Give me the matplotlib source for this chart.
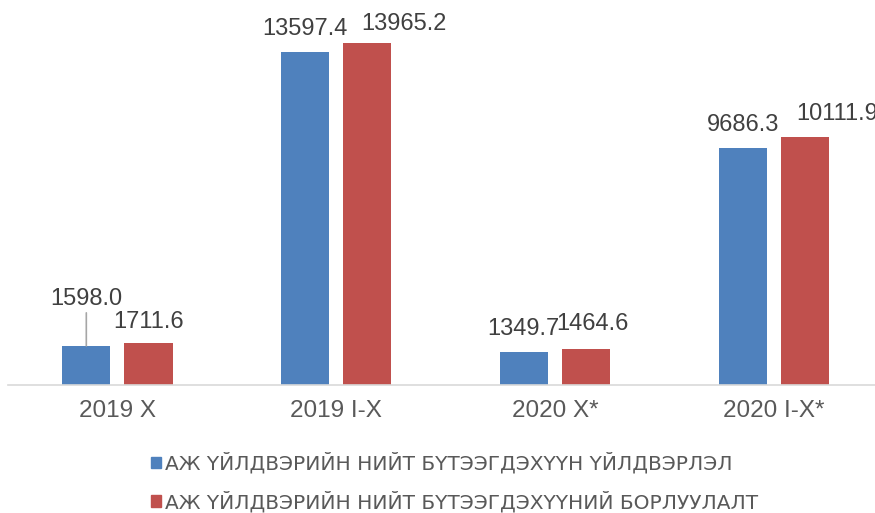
import matplotlib
matplotlib.use("Agg")
import matplotlib.pyplot as plt
import numpy as np
from matplotlib import font_manager
from matplotlib.patches import Patch

categories = ["2019 X", "2019 I-X", "2020 X*", "2020 I-X*"]
production = [1598.0, 13597.4, 1349.7, 9686.3]
sales = [1711.6, 13965.2, 1464.6, 10111.9]
series_names = [
    "АЖ ҮЙЛДВЭРИЙН НИЙТ БҮТЭЭГДЭХҮҮН ҮЙЛДВЭРЛЭЛ",
    "АЖ ҮЙЛДВЭРИЙН НИЙТ БҮТЭЭГДЭХҮҮНИЙ БОРЛУУЛАЛТ",
]

BLUE = "#4F81BD"
RED = "#C0504D"
TEXT = "#404040"

available = {f.name for f in font_manager.fontManager.ttflist}
narrow = "Liberation Sans Narrow" if "Liberation Sans Narrow" in available else "DejaVu Sans Condensed"
plt.rcParams["font.family"] = ["Liberation Sans", "DejaVu Sans"]

fig = plt.figure(figsize=(8.75, 5.13), dpi=100)
ax = fig.add_axes([8 / 875, (513 - 385) / 513, 1.0, 375 / 513])

x = np.arange(len(categories))
w = 0.22
off = 0.142
b1 = ax.bar(x - off, production, w, color=BLUE, zorder=2)
b2 = ax.bar(x + off, sales, w, color=RED, zorder=2)

ax.set_xlim(-0.5, 3.5)
ax.set_ylim(0, 15312)

# label positions as in the source: (dx, dy) in pixels from bar top to text centre
blue_pos = [(0, 49), (0, 25), (0, 25), (0, 25)]
red_pos = [(0, 24), (37, 21), (7, 28), (32, 26)]
CAP = 8.5  # half the digit height, px

for bars, vals, pos in [(b1, production, blue_pos), (b2, sales, red_pos)]:
    for rect, val, (dx, dy) in zip(bars, vals, pos):
        cx = rect.get_x() + rect.get_width() / 2
        ax.annotate(f"{val:.1f}", xy=(cx, val), xytext=(dx, dy - CAP),
                    textcoords="offset pixels", ha="center", va="baseline",
                    fontsize=17, color=TEXT, annotation_clip=False)

# leader line for the first blue label
r0 = b1[0]
ax.annotate("", xy=(r0.get_x() + r0.get_width() / 2, production[0]), xytext=(0, 33),
            textcoords="offset pixels",
            arrowprops=dict(arrowstyle="-", color="#A6A6A6", lw=1.2, shrinkA=0, shrinkB=0))

for s in ["top", "right", "left"]:
    ax.spines[s].set_visible(False)
ax.spines["bottom"].set_color("#D9D9D9")
ax.spines["bottom"].set_linewidth(1.2)
ax.set_yticks([])
ax.set_xticks(x)
ax.set_xticklabels(categories, fontsize=17.5, color="#595959")
ax.tick_params(axis="x", length=0, pad=11)

handles = [Patch(color=BLUE), Patch(color=RED)]
leg = fig.legend(handles, series_names, loc="upper left",
                 bbox_to_anchor=(151 / 875, 1 - 452 / 513),
                 ncol=1, frameon=False, borderpad=0, borderaxespad=0,
                 handlelength=0.5, handleheight=0.5,
                 handletextpad=0.2, labelspacing=0.85,
                 prop={"family": narrow, "size": 14.5})
for t in leg.get_texts():
    t.set_color("#595959")

fig.savefig("out.png", dpi=100)
